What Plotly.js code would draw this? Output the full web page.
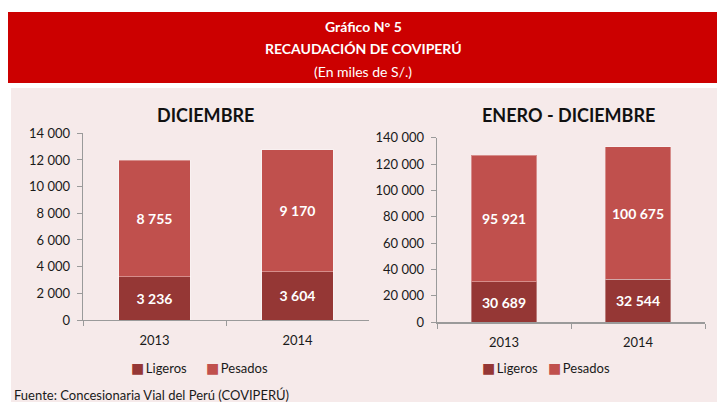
<!DOCTYPE html>
<html>
<head>
<meta charset="utf-8">
<script src="https://cdn.plot.ly/plotly-3.0.1.min.js"></script>
<style>html,body{margin:0;padding:0;background:#fff;}#chart{width:717px;height:402px;}</style>
</head>
<body>
<div id="chart"></div>
<script>
// Data
const years = ["2013", "2014"];
const dicLigeros = [3236, 3604];
const dicPesados = [8755, 9170];
const anualLigeros = [30689, 32544];
const anualPesados = [95921, 100675];
const seriesNames = ["Ligeros", "Pesados"];
const leftTicks = [0, 2000, 4000, 6000, 8000, 10000, 12000, 14000];
const rightTicks = [0, 20000, 40000, 60000, 80000, 100000, 120000, 140000];

const FONT = "Lato, 'Liberation Sans', sans-serif";
const C_LIG = "#953735";
const C_PES = "#C0504D";
const W = 717, H = 402;
const px = v => v / W;
const py = v => 1 - v / H;

function fmt(n) { return String(n).replace(/\B(?=(\d{3})+(?!\d))/g, " "); }

function barTrace(x, y, name, color, xa, ya, width) {
  return {
    type: "bar", x: x, y: y, name: name, xaxis: xa, yaxis: ya,
    width: width, showlegend: false,
    marker: {color: color, line: {color: "rgba(255,255,255,0.35)", width: 1}},
    text: y.map(fmt), textposition: "inside", insidetextanchor: "middle",
    textangle: 0,
    textfont: {family: FONT, size: 14, color: "#ffffff", weight: "bold"},
    hoverinfo: "skip"
  };
}

const data = [
  barTrace(years, dicLigeros, seriesNames[0], C_LIG, "x", "y", 0.5),
  barTrace(years, dicPesados, seriesNames[1], C_PES, "x", "y", 0.5),
  barTrace(years, anualLigeros, seriesNames[0], C_LIG, "x2", "y2", 0.49),
  barTrace(years, anualPesados, seriesNames[1], C_PES, "x2", "y2", 0.49)
];

const axisColor = "#9a9a9a";
function xAxis(domain, anchor) {
  return {
    domain: domain, anchor: anchor, type: "category",
    showline: true, linecolor: axisColor, linewidth: 1.3,
    ticks: "outside", tickson: "boundaries", ticklen: 5, tickcolor: axisColor,
    showgrid: false, zeroline: false,
    tickfont: {family: FONT, size: 13, color: "#1a1a1a"},
    ticklabelstandoff: 8, fixedrange: true
  };
}
function yAxis(domain, anchor, range, ticks) {
  return {
    domain: domain, anchor: anchor, range: range,
    tickmode: "array", tickvals: ticks, ticktext: ticks.map(fmt),
    showline: true, linecolor: axisColor, linewidth: 1.3,
    ticks: "outside", ticklen: 5, tickcolor: axisColor,
    showgrid: false, zeroline: false,
    tickfont: {family: FONT, size: 13, color: "#1a1a1a"},
    ticklabelstandoff: 4, fixedrange: true
  };
}

function legendItem(name, color, xLeft) {
  return {
    text: '<span style="color:' + color + ';font-family:DejaVu Sans;font-size:14px">■</span>\u2009' + name,
    xref: "paper", yref: "paper", x: px(xLeft), y: py(368),
    xanchor: "left", yanchor: "middle", showarrow: false,
    font: {family: FONT, size: 13, color: "#1a1a1a"}
  };
}

function ann(text, x, y, size, color, extra) {
  return Object.assign({
    text: text, xref: "paper", yref: "paper", x: px(x), y: py(y),
    xanchor: "center", yanchor: "middle", showarrow: false,
    font: {family: FONT, size: size, color: color}
  }, extra || {});
}

const layout = {
  width: W, height: H,
  margin: {l: 0, r: 0, t: 0, b: 0},
  paper_bgcolor: "#ffffff",
  plot_bgcolor: "rgba(0,0,0,0)",
  barmode: "stack",
  showlegend: false,
  font: {family: FONT},
  xaxis: xAxis([px(83), px(369)], "y"),
  yaxis: yAxis([py(320), py(133.3)], "x", [0, 14000], leftTicks),
  xaxis2: xAxis([px(437), px(705)], "y2"),
  yaxis2: yAxis([py(322.3), py(137.7)], "x2", [0, 140000], rightTicks),
  shapes: [
    {type: "rect", xref: "paper", yref: "paper", x0: px(11), x1: 1, y0: 0, y1: py(88),
     fillcolor: "#F6EAEA", line: {width: 0}, layer: "below"},
    {type: "rect", xref: "paper", yref: "paper", x0: px(8), x1: 1, y0: py(83), y1: py(12),
     fillcolor: "#CC0000", line: {width: 0}, layer: "below"}
  ],
  annotations: [
    ann("<b>Gráfico N° 5</b>", 363, 27, 14, "#ffffff"),
    ann("<b>RECAUDACIÓN DE COVIPERÚ</b>", 363, 48, 14, "#ffffff"),
    ann("(En miles de S/.)", 363, 71, 14, "#ffffff"),
    ann("<b>DICIEMBRE</b>", 205, 115, 18, "#111111"),
    ann("<b>ENERO - DICIEMBRE</b>", 568, 115, 18, "#111111"),
    ann("Fuente: Concesionaria Vial del Perú (COVIPERÚ)", 12, 395, 13, "#1a1a1a", {xanchor: "left"}),
    legendItem(seriesNames[0], C_LIG, 129),
    legendItem(seriesNames[1], C_PES, 204),
    legendItem(seriesNames[0], C_LIG, 480),
    legendItem(seriesNames[1], C_PES, 546)
  ]
};

Plotly.newPlot("chart", data, layout, {displayModeBar: false, staticPlot: true});
</script>
</body>
</html>
